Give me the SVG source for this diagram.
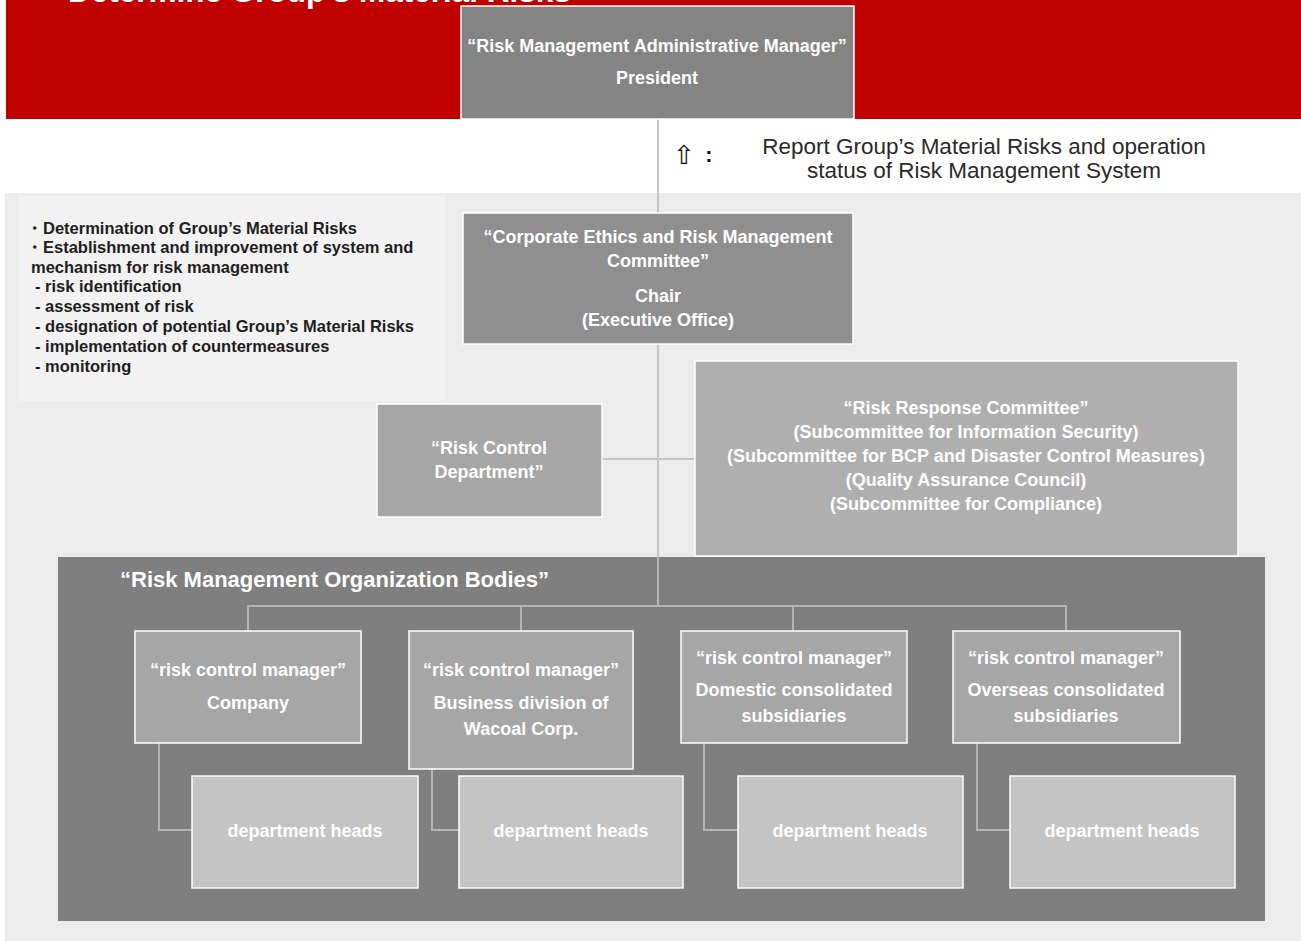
<svg xmlns="http://www.w3.org/2000/svg" width="1301" height="941" viewBox="0 0 1301 941">
<style>
.box{stroke:#ffffff;stroke-width:1.5}
.bt{font-family:"Liberation Sans",Arial,sans-serif;font-weight:bold;font-size:18px;fill:#ffffff;text-anchor:middle}
.lt{font-family:"Liberation Sans",Arial,sans-serif;font-weight:bold;font-size:16.5px;fill:#1e1e1e}
.rt{font-family:"Liberation Sans",Arial,sans-serif;font-size:22.5px;fill:#2a2a2a;text-anchor:middle}
.con{fill:none;stroke:#c4c4c4;stroke-width:2}
.con2{fill:none;stroke:#b4b4b4;stroke-width:2}
</style>
<rect x="0" y="0" width="1301" height="941" fill="#ffffff"/>
<g id="band">
<rect x="6" y="0" width="1295" height="119" fill="#c00000"/>
<text x="68" y="2" font-family="Liberation Sans,Arial,sans-serif" font-weight="bold" font-size="31.5" fill="#ffffff">Determine Group's Material Risks</text>
</g>
<rect x="5" y="193" width="1296" height="748" fill="#ececec"/>
<g id="bodies-area">
<rect x="58" y="557" width="1207" height="364" fill="#7f7f7f"/>
<text x="120" y="587" font-family="Liberation Sans,Arial,sans-serif" font-weight="bold" font-size="22" fill="#ffffff">“Risk Management Organization Bodies”</text>
</g>
<g id="connectors">
<line class="con" x1="658" y1="119" x2="658" y2="213"/>
<line class="con" x1="658" y1="344" x2="658" y2="557"/>
<line class="con2" x1="658" y1="557" x2="658" y2="606"/>
<line class="con" x1="602" y1="459" x2="695" y2="459"/>
<polyline class="con2" points="248,631 248,606 1066,606 1066,631"/>
<line class="con2" x1="521" y1="606" x2="521" y2="631"/>
<line class="con2" x1="793" y1="606" x2="793" y2="631"/>
<polyline class="con2" points="159,743 159,830 192,830"/>
<polyline class="con2" points="432,769 432,830 459,830"/>
<polyline class="con2" points="704,743 704,830 738,830"/>
<polyline class="con2" points="977,743 977,830 1010,830"/>
</g>
<g id="note">
<text x="684" y="164" font-family="DejaVu Sans,sans-serif" font-size="26" fill="#111111" text-anchor="middle">⇧</text>
<text x="709" y="162" font-family="Liberation Sans,Arial,sans-serif" font-weight="bold" font-size="22" fill="#111111" text-anchor="middle">:</text>
<text class="rt" x="984" y="154">Report Group’s Material Risks and operation</text>
<text class="rt" x="984" y="178">status of Risk Management System</text>
</g>
<g id="president">
<rect class="box" x="461" y="6" width="393" height="113" fill="#848484"/>
<text class="bt" x="657" y="52">“Risk Management Administrative Manager”</text>
<text class="bt" x="657" y="84">President</text>
</g>
<g id="roles">
<rect x="18" y="196" width="428" height="205" fill="#f2f2f2"/>
<text class="lt" x="26" y="234">・Determination of Group’s Material Risks</text>
<text class="lt" x="26" y="253">・Establishment and improvement of system and</text>
<text class="lt" x="31" y="273">mechanism for risk management</text>
<text class="lt" x="35" y="292">- risk identification</text>
<text class="lt" x="35" y="312">- assessment of risk</text>
<text class="lt" x="35" y="332">- designation of potential Group’s Material Risks</text>
<text class="lt" x="35" y="352">- implementation of countermeasures</text>
<text class="lt" x="35" y="372">- monitoring</text>
</g>
<g id="committee">
<rect class="box" x="463" y="213" width="390" height="131" fill="#8f8f8f"/>
<text class="bt" x="658" y="243">“Corporate Ethics and Risk Management</text>
<text class="bt" x="658" y="267">Committee”</text>
<text class="bt" x="658" y="302">Chair</text>
<text class="bt" x="658" y="326">(Executive Office)</text>
</g>
<g id="risk-control-dept">
<rect class="box" x="377" y="404" width="225" height="113" fill="#a6a6a6"/>
<text class="bt" x="489" y="454">“Risk Control</text>
<text class="bt" x="489" y="478">Department”</text>
</g>
<g id="risk-response">
<rect class="box" x="695" y="361" width="543" height="195" fill="#afafaf"/>
<text class="bt" x="966" y="414">“Risk Response Committee”</text>
<text class="bt" x="966" y="438">(Subcommittee for Information Security)</text>
<text class="bt" x="966" y="462">(Subcommittee for BCP and Disaster Control Measures)</text>
<text class="bt" x="966" y="486">(Quality Assurance Council)</text>
<text class="bt" x="966" y="510">(Subcommittee for Compliance)</text>
</g>
<g id="manager-company">
<rect class="box" x="135" y="631" width="226" height="112" fill="#a6a6a6"/>
<text class="bt" x="248" y="676">“risk control manager”</text>
<text class="bt" x="248" y="709">Company</text>
</g>
<g id="manager-wacoal">
<rect class="box" x="409" y="631" width="224" height="138" fill="#a6a6a6"/>
<text class="bt" x="521" y="676">“risk control manager”</text>
<text class="bt" x="521" y="709">Business division of</text>
<text class="bt" x="521" y="735">Wacoal Corp.</text>
</g>
<g id="manager-domestic">
<rect class="box" x="681" y="631" width="226" height="112" fill="#a6a6a6"/>
<text class="bt" x="794" y="664">“risk control manager”</text>
<text class="bt" x="794" y="696">Domestic consolidated</text>
<text class="bt" x="794" y="722">subsidiaries</text>
</g>
<g id="manager-overseas">
<rect class="box" x="953" y="631" width="227" height="112" fill="#a6a6a6"/>
<text class="bt" x="1066" y="664">“risk control manager”</text>
<text class="bt" x="1066" y="696">Overseas consolidated</text>
<text class="bt" x="1066" y="722">subsidiaries</text>
</g>
<g id="heads-company">
<rect class="box" x="192" y="776" width="226" height="112" fill="#c4c4c4"/>
<text class="bt" x="305" y="837">department heads</text>
</g>
<g id="heads-wacoal">
<rect class="box" x="459" y="776" width="224" height="112" fill="#c4c4c4"/>
<text class="bt" x="571" y="837">department heads</text>
</g>
<g id="heads-domestic">
<rect class="box" x="738" y="776" width="225" height="112" fill="#c4c4c4"/>
<text class="bt" x="850" y="837">department heads</text>
</g>
<g id="heads-overseas">
<rect class="box" x="1010" y="776" width="225" height="112" fill="#c4c4c4"/>
<text class="bt" x="1122" y="837">department heads</text>
</g>
</svg>
